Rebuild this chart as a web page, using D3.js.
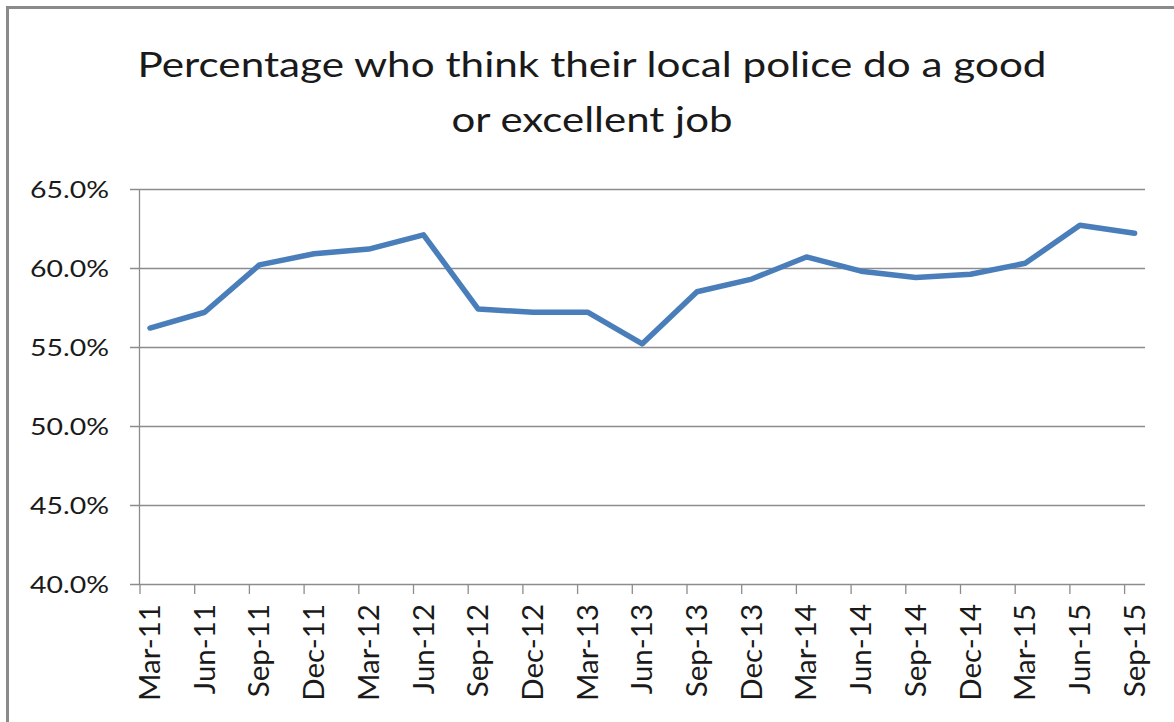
<!DOCTYPE html>
<html>
<head>
<meta charset="utf-8">
<script src="https://cdn.jsdelivr.net/npm/d3@7"></script>
<style>
  html, body { margin: 0; padding: 0; background: #ffffff; }
  svg { display: block; }
  text { font-family: Lato, "Open Sans", "Noto Sans", sans-serif; fill: #1a1a1a; }
</style>
</head>
<body>
<svg id="chart" width="1174" height="722"></svg>
<script>
// Quarterly survey results, March 2011 – September 2015
const quarters = ["Mar-11","Jun-11","Sep-11","Dec-11","Mar-12","Jun-12","Sep-12","Dec-12","Mar-13","Jun-13",
                  "Sep-13","Dec-13","Mar-14","Jun-14","Sep-14","Dec-14","Mar-15","Jun-15","Sep-15"];
const goodOrExcellent = [56.2, 57.2, 60.2, 60.9, 61.2, 62.1, 57.4, 57.2, 57.2, 55.2,
                         58.5, 59.3, 60.7, 59.8, 59.4, 59.6, 60.3, 62.7, 62.2];
const yTicks = [40, 45, 50, 55, 60, 65];
const titleLines = ["Percentage who think their local police do a good", "or excellent job"];

const svg = d3.select("#chart");

// outer chart frame
svg.append("rect")
  .attr("x", 7.5).attr("y", 7.5)
  .attr("width", 1200).attr("height", 760)
  .attr("fill", "#ffffff")
  .attr("stroke", "#8a8a8a")
  .attr("stroke-width", 3);

// plot geometry
const plot = { left: 140, right: 1145, top: 189, bottom: 584 };
const tickShift = 0.183; // category ticks sit slightly before each point

const x = d3.scaleLinear()
  .domain([-tickShift, quarters.length - 1 + 0.19])
  .range([plot.left, plot.right]);
const y = d3.scaleLinear()
  .domain([40, 65])
  .range([plot.bottom, plot.top]);

const gridColor = "#8c8c8c";

// title
svg.append("g")
  .selectAll("text")
  .data(titleLines)
  .join("text")
  .attr("x", 592)
  .attr("y", (d, i) => 77 + i * 55)
  .attr("text-anchor", "middle")
  .attr("font-size", 34)
  .attr("textLength", (d, i) => i === 0 ? 909 : 281)
  .attr("lengthAdjust", "spacingAndGlyphs")
  .text(d => d);

// horizontal gridlines (with small outward ticks on the value axis)
svg.append("g")
  .selectAll("line")
  .data(yTicks)
  .join("line")
  .attr("x1", plot.left - 10)
  .attr("x2", plot.right)
  .attr("y1", d => Math.round(y(d)) + 0.5)
  .attr("y2", d => Math.round(y(d)) + 0.5)
  .attr("stroke", gridColor)
  .attr("stroke-width", 1.3);

// value axis line
svg.append("line")
  .attr("x1", plot.left - 0.5).attr("x2", plot.left - 0.5)
  .attr("y1", plot.top).attr("y2", plot.bottom)
  .attr("stroke", gridColor)
  .attr("stroke-width", 1.3);

// value axis labels
svg.append("g")
  .selectAll("text")
  .data(yTicks)
  .join("text")
  .attr("x", 109)
  .attr("y", d => y(d) + 8.5)
  .attr("text-anchor", "end")
  .attr("font-size", 23)
  .attr("textLength", 79)
  .attr("lengthAdjust", "spacingAndGlyphs")
  .text(d => d3.format(".1f")(d) + "%");

// category tick marks
svg.append("g")
  .selectAll("line")
  .data(quarters.map((q, i) => i))
  .join("line")
  .attr("x1", i => x(i - tickShift))
  .attr("x2", i => x(i - tickShift))
  .attr("y1", plot.bottom)
  .attr("y2", plot.bottom + 10)
  .attr("stroke", gridColor)
  .attr("stroke-width", 1.3);

// category labels, rotated
svg.append("g")
  .selectAll("text")
  .data(quarters)
  .join("text")
  .attr("transform", (d, i) => `translate(${x(i) + 10},${plot.bottom + 20}) rotate(-90)`)
  .attr("text-anchor", "end")
  .attr("font-size", 29.5)
  .text(d => d);

// series line
const line = d3.line()
  .x((d, i) => x(i))
  .y(d => y(d));

svg.append("path")
  .datum(goodOrExcellent)
  .attr("d", line)
  .attr("fill", "none")
  .attr("stroke", "#4a7ebb")
  .attr("stroke-width", 5.5)
  .attr("stroke-linejoin", "round")
  .attr("stroke-linecap", "round");
</script>
</body>
</html>
